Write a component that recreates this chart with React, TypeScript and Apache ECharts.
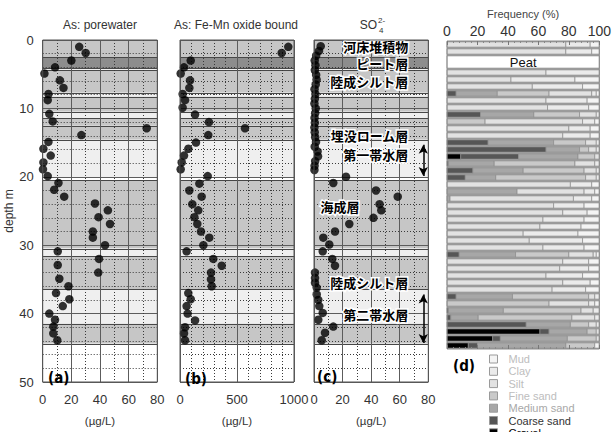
import React, { useEffect, useRef } from "react";
import * as echarts from "echarts";

const FONT = "'Liberation Sans', Arial, sans-serif";
const JP = "'Noto Sans CJK JP', sans-serif";
const BOLD_NARROW = "'DejaVu Sans Condensed', 'Liberation Sans Narrow', 'DejaVu Sans', sans-serif";

// ---- tick labels ----
const depthTicks = [0, 10, 20, 30, 40, 50];
const concTicks = [0, 20, 40, 60, 80];
const feMnTicks = [0, 500, 1000];
const freqTicks = [0, 20, 40, 60, 80, 100];

// ---- (a) As: porewater (µg/L) ----
const porewaterDepth = [1.0, 1.9, 3.0, 4.0, 4.9, 5.9, 7.0, 7.9, 8.8, 10.8, 11.9, 12.9, 13.9, 14.9, 15.9, 16.9, 17.9, 18.9, 19.9, 20.9, 21.9, 22.9, 23.9, 24.9, 25.9, 26.9, 28.0, 28.9, 30.0, 30.9, 32.0, 32.9, 34.0, 34.9, 36.0, 37.0, 37.9, 38.9, 40.0, 40.9, 41.9, 42.9, 43.9];
const porewaterAs = [25.5, 30, 20, 8.6, 1.2, 12, 14.5, 4, 3.5, 4.6, 7, 72.6, 27, 4, 0.5, 5.6, 0.5, 0.2, 3.5, 11, 8, 15, 36.5, 45.5, 39, 47, 35, 35, 43.5, 10.5, 39.3, 10.5, 38.8, 11.6, 18, 9.3, 18.6, 14, 4.6, 8.6, 7.4, 7.4, 10.2];

// ---- (b) As: Fe-Mn oxide bound (µg/L) ----
const feMnDepth = [1.0, 1.9, 3.0, 4.0, 4.9, 5.9, 7.0, 7.9, 8.8, 9.9, 10.9, 12.0, 12.9, 13.9, 15.0, 15.9, 16.9, 17.9, 18.9, 19.9, 21.0, 22.0, 22.9, 24.0, 24.9, 25.9, 26.9, 28.0, 28.9, 30.0, 30.9, 32.0, 33.0, 34.0, 35.0, 36.0, 37.0, 37.9, 38.9, 40.0, 41.0, 42.0, 42.9, 43.9];
const feMnAs = [950, 892, 94, 35, 6, 88, 82, 23, 44, 23, 132, 254, 570, 248, 140, 73, 35, 15, 6, 243, 170, 82, 190, 108, 160, 126, 152, 184, 257, 205, 58, 292, 366, 272, 272, 278, 73, 94, 58, 67, 132, 44, 35, 44];

// ---- (c) SO4 2- (µg/L) ----
const so4Depth = [0.9, 1.6, 2.3, 3.0, 3.7, 4.4, 5.1, 5.8, 6.5, 7.2, 7.9, 8.6, 9.3, 10.0, 10.7, 11.4, 12.1, 12.8, 13.5, 14.2, 14.9, 15.6, 16.3, 17.0, 17.7, 18.4, 19.0, 20.0, 20.9, 22.0, 22.9, 24.0, 24.9, 26.0, 26.9, 28.0, 28.9, 29.9, 30.9, 32.0, 33.0, 34.0, 34.8, 35.5, 36.2, 37.2, 38.0, 38.9, 39.9, 40.9, 41.9, 42.8, 43.9];
const so4Conc = [4.7, 3.5, 1.5, 0.5, 1.0, 0.6, 1.5, 1.8, 1.2, 0.4, 1.0, 0.6, 0.3, 1.2, 0.8, 0.4, 0.6, 0.3, 0.5, 0.8, 1.4, 0.5, 2.5, 2.8, 0.8, 0.4, 0.3, 22.4, 13.5, 43.4, 58.6, 45.9, 47.1, 41.6, 24.7, 14.7, 6.5, 10.7, 6.1, 12.8, 14.7, 0.7, 0.7, 0.7, 1.9, 1.9, 3.0, 3.7, 6.1, 3.0, 13.5, 7.7, 5.4];

// ---- stratigraphic bands (depth m) ----
const layerTop = [0, 2.5, 4.1, 4.4, 7.7, 8.3, 10.5, 11.4, 12.5, 14.6, 20.1, 20.5, 30.5, 31.6, 36.4, 41.5, 44.4];
const layerBottom = [2.5, 4.1, 4.4, 7.7, 8.3, 10.5, 11.4, 12.5, 14.6, 20.1, 20.5, 30.5, 31.6, 36.4, 41.5, 44.4, 50];
const layerShade = [1, 2, 0, 1, 0, 1, 0, 1, 1, 0, 3, 1, 0, 1, 0, 1, 3]; // 0 light,1 medium,2 dark,3 white

const layerNames = ["河床堆積物", "ピート層", "陸成シルト層", "埋没ローム層", "第一帯水層", "海成層", "陸成シルト層", "第二帯水層"];
const layerNameDepths = [1.0, 3.4, 6.1, 14.0, 16.8, 24.3, 35.4, 40.1];
const aquiferTop = [14.8, 36.7];
const aquiferBottom = [20.4, 44.8];

// ---- (d) grain size frequency (%) per row ----
const rowTop = [0, 1, 4, 5, 6, 7, 8, 9, 10, 11, 12, 13, 14, 15, 16, 17, 18, 19, 20, 21, 22, 23, 24, 25, 26, 27, 28, 29, 30, 31, 32, 33, 34, 35, 36, 37, 38, 39, 40, 41, 42, 43];
const peatTop = 2;
const peatBottom = 4;
const gravel = [0, 0, 0, 0, 0, 0, 0, 0, 0, 0, 0, 0, 0, 0, 9, 0, 0, 0, 0, 0, 0, 0, 0, 0, 0, 0, 0, 0, 0, 0, 0, 0, 0, 0, 0, 0, 0, 0, 0, 61, 30, 14];
const coarseSand = [0, 0, 0, 0, 0, 6, 0, 0, 22, 0, 0, 0, 27, 65, 38, 1, 17, 12, 0, 0, 0, 0, 0, 0, 0, 0, 0, 0, 8, 0, 0, 0, 0, 0, 6, 0, 1, 2.5, 52, 6, 5, 6];
const mediumSand = [0, 0, 0, 0, 0, 27, 0, 0, 35, 0, 0, 0, 43, 22, 39, 30, 33, 20, 0, 46, 2, 0, 0, 0, 0, 0, 0, 0, 37, 0, 0, 0, 0, 0, 37, 0, 36, 18, 29, 25, 44, 58];
const fineSand = [0, 0, 0, 0, 0, 34, 0, 0, 30, 25, 0, 0, 21, 6, 11, 53, 40, 59, 0, 0, 0, 0, 0, 0, 0, 0, 0, 0, 35, 0, 0, 0, 0, 0, 50, 67, 51, 61.5, 12, 6, 19, 19];
const silt = [78, 78, 65, 42, 56, 28, 65, 66, 11, 64, 80, 76, 7, 5, 3, 13, 8, 7, 81, 44, 81, 70, 76, 63, 61, 50, 54, 63, 16, 76, 74, 65, 76, 69, 4, 26, 8, 15, 5, 2, 2, 0];
const clay = [16, 17, 35, 42, 33, 3, 27, 27, 2, 8, 14, 18, 2, 2, 0, 3, 2, 2, 14, 7, 12, 20, 16, 27, 27, 36, 35, 27, 2, 17, 19, 24, 18, 22, 3, 4, 4, 3, 2, 0, 0, 0];
const mud = [6, 5, 0, 16, 11, 2, 8, 7, 0, 3, 6, 6, 0, 0, 0, 0, 0, 0, 5, 3, 5, 10, 8, 10, 12, 14, 11, 10, 2, 7, 7, 11, 6, 9, 0, 3, 0, 0, 0, 0, 0, 3];

const components = [
  { name: "Gravel", values: gravel, color: "#000000", text: "#000000" },
  { name: "Coarse sand", values: coarseSand, color: "#565656", text: "#333333" },
  { name: "Medium sand", values: mediumSand, color: "#a7a7a7", text: "#a8a8a8" },
  { name: "Fine sand", values: fineSand, color: "#c9c9c9", text: "#bdbdbd" },
  { name: "Silt", values: silt, color: "#e2e2e2", text: "#bdbdbd" },
  { name: "Clay", values: clay, color: "#ebebeb", text: "#bdbdbd" },
  { name: "Mud", values: mud, color: "#f4f4f4", text: "#bdbdbd" },
];
const legendOrder = ["Mud", "Clay", "Silt", "Fine sand", "Medium sand", "Coarse sand", "Gravel"];

const SHADES = ["#efefef", "#c6c6c6", "#8d8d8d", "#ffffff"];

const zip = (x: number[], y: number[]) => x.map((v, i) => [v, y[i]]);

function buildOption(): any {
  const grids: any[] = [
    { left: 42.7, top: 40, width: 114.6, height: 347.5 },
    { left: 180, top: 40, width: 114, height: 347.5 },
    { left: 314, top: 40, width: 114.3, height: 347.5 },
  ].map((g) => ({ ...g, show: true, z: 10, borderColor: "#555", borderWidth: 1, backgroundColor: "transparent" }));
  grids.push({ left: 447, top: 41, width: 155, height: 308, show: true, z: 10, borderColor: "#8a8a8a", borderWidth: 1, backgroundColor: "transparent" });

  const depthAxis = (gridIndex: number, showLabel: boolean) => ({
    type: "value",
    gridIndex,
    inverse: true,
    min: depthTicks[0],
    max: depthTicks[depthTicks.length - 1],
    interval: depthTicks[1] - depthTicks[0],
    z: 3,
    axisLine: { show: false },
    axisTick: { show: false },
    axisLabel: { show: showLabel, fontSize: 13, color: "#333", margin: 9, fontFamily: FONT },
    splitLine: { show: true, lineStyle: { color: "#5c5c5c", width: 1 } },
    minorTick: { show: false, splitNumber: 5 },
    minorSplitLine: { show: true, lineStyle: { color: "#3a3a3a", width: 1, type: [1, 2] } },
    ...(showLabel
      ? { name: "depth m", nameLocation: "middle", nameGap: 27, nameRotate: 90, nameTextStyle: { fontSize: 12, color: "#333", fontFamily: FONT } }
      : {}),
  });

  const concAxis = (gridIndex: number, ticks: number[], minor: number) => ({
    type: "value",
    gridIndex,
    min: ticks[0],
    max: ticks[ticks.length - 1],
    interval: ticks[1] - ticks[0],
    z: 3,
    axisLine: { show: false },
    axisTick: { show: false },
    axisLabel: { fontSize: 13, color: "#333", margin: 11, fontFamily: FONT, formatter: (v: number) => String(v) },
    splitLine: { show: true, lineStyle: { color: "#5c5c5c", width: 1 } },
    minorTick: { show: false, splitNumber: minor },
    minorSplitLine: { show: true, lineStyle: { color: "#3a3a3a", width: 1, type: [1, 2] } },
    name: "(µg/L)",
    nameLocation: "middle",
    nameGap: 33,
    nameTextStyle: { fontSize: 11.5, color: "#333", fontFamily: FONT },
  });

  const bandRender = (params: any, api: any) => {
    const cs = params.coordSys;
    const y0 = api.coord([0, api.value(0)])[1];
    const y1 = api.coord([0, api.value(1)])[1];
    const children: any[] = [
      { type: "rect", shape: { x: cs.x, y: y0, width: cs.width, height: y1 - y0 }, style: { fill: SHADES[api.value(2)] } },
    ];
    if (api.value(0) > 0) {
      const yl = Math.round(y0) + 0.5;
      children.push({ type: "line", shape: { x1: cs.x, y1: yl, x2: cs.x + cs.width, y2: yl }, style: { stroke: "#474747", lineWidth: 1 } });
    }
    return { type: "group", children };
  };

  const bandData = layerTop.map((t, i) => [t, layerBottom[i], layerShade[i]]);
  const bandSeries = [0, 1, 2].map((g) => ({
    type: "custom",
    name: "bands" + g,
    xAxisIndex: g,
    yAxisIndex: g,
    z: 1,
    silent: true,
    encode: { y: [0, 1], x: 2 },
    data: bandData,
    renderItem: bandRender,
  }));

  const scatterBase = { type: "scatter", symbol: "circle", symbolSize: 8.5, itemStyle: { color: "#000" }, z: 5, silent: true };

  // backdrop of the grain size panel (gaps between rows)
  const backdropSeries = {
    type: "custom",
    name: "backdrop",
    xAxisIndex: 3,
    yAxisIndex: 3,
    z: 1,
    silent: true,
    encode: { y: 0, x: 1 },
    data: [[0, 0]],
    renderItem: (params: any) => {
      const cs = params.coordSys;
      return { type: "rect", shape: { x: cs.x, y: cs.y, width: cs.width, height: cs.height }, style: { fill: "#a4a4a4" } };
    },
  };

  // grain size stacked rows
  const compSeries = components.map((c, k) => ({
    type: "custom",
    name: c.name,
    xAxisIndex: 3,
    yAxisIndex: 3,
    z: 2,
    silent: true,
    itemStyle: { color: c.color },
    encode: { y: [0, 1], x: [2, 3] },
    data: rowTop
      .map((t, r) => {
        let start = 0;
        for (let j = 0; j < k; j++) start += components[j].values[r];
        return [t, t + 1, start, start + c.values[r]];
      })
      .filter((d) => d[3] > d[2]),
    renderItem: (params: any, api: any) => {
      const p0 = api.coord([api.value(2), api.value(0)]);
      const p1 = api.coord([api.value(3), api.value(1)]);
      return {
        type: "rect",
        shape: { x: p0[0], y: p0[1] + 0.9, width: p1[0] - p0[0], height: p1[1] - p0[1] - 1.8 },
        style: { fill: c.color, stroke: "#8e8e8e", lineWidth: 0.7 },
      };
    },
  }));

  const peatSeries = {
    type: "custom",
    name: "Peat",
    xAxisIndex: 3,
    yAxisIndex: 3,
    z: 2,
    silent: true,
    encode: { y: [0, 1], x: [2, 3] },
    data: [[peatTop, peatBottom, 0, 100]],
    renderItem: (params: any, api: any) => {
      const p0 = api.coord([api.value(2), api.value(0)]);
      const p1 = api.coord([api.value(3), api.value(1)]);
      return {
        type: "group",
        children: [
          { type: "rect", shape: { x: p0[0], y: p0[1] + 0.9, width: p1[0] - p0[0], height: p1[1] - p0[1] - 1.8 }, style: { fill: "#ffffff", stroke: "#8e8e8e", lineWidth: 0.7 } },
          { type: "text", x: (p0[0] + p1[0]) / 2, y: (p0[1] + p1[1]) / 2, style: { text: "Peat", fill: "#111", fontSize: 13, fontFamily: FONT, align: "center", verticalAlign: "middle" } },
        ],
      };
    },
  };

  const labelSeries = {
    type: "custom",
    name: "layers",
    xAxisIndex: 2,
    yAxisIndex: 2,
    z: 7,
    silent: true,
    encode: { y: 0, x: 1 },
    data: layerNameDepths.map((d, i) => [d, i]),
    renderItem: (params: any, api: any) => {
      const name = layerNames[api.value(1)];
      const leftAligned = name === "海成層";
      const p = api.coord([leftAligned ? 4.5 : 66, api.value(0)]);
      return {
        type: "text",
        x: p[0],
        y: p[1],
        style: {
          text: name,
          fontSize: 13,
          fontWeight: "bold",
          fontFamily: JP,
          align: leftAligned ? "left" : "right",
          verticalAlign: "middle",
          lineHeight: 13,
          fill: "#000",
          stroke: "#fff",
          lineWidth: 3,
          strokeFirst: true,
        },
      };
    },
  };

  const titleStyle = { fill: "#333", fontSize: 12, fontFamily: FONT, align: "center", verticalAlign: "middle" };
  const panelStyle = { fill: "#000", fontSize: 15, fontWeight: "bold", fontFamily: BOLD_NARROW, align: "left", verticalAlign: "middle" };

  return {
    animation: false,
    backgroundColor: "#ffffff",
    grid: grids,
    xAxis: [
      concAxis(0, concTicks, 2),
      concAxis(1, feMnTicks, 5),
      concAxis(2, concTicks, 2),
      {
        type: "value",
        gridIndex: 3,
        position: "top",
        min: freqTicks[0],
        max: freqTicks[freqTicks.length - 1],
        interval: freqTicks[1] - freqTicks[0],
        z: 11,
        axisLine: { show: false },
        axisTick: { show: true, inside: true, length: 4, lineStyle: { color: "#777" } },
        minorTick: { show: true, splitNumber: 5, length: 2, lineStyle: { color: "#888" } },
        axisLabel: { fontSize: 14, color: "#333", margin: 3, fontFamily: FONT },
        splitLine: { show: false },
        name: "Frequency (%)",
        nameLocation: "middle",
        nameGap: 22,
        nameTextStyle: { fontSize: 11, color: "#444", fontFamily: FONT },
      },
      {
        type: "value",
        gridIndex: 3,
        position: "bottom",
        min: freqTicks[0],
        max: freqTicks[freqTicks.length - 1],
        interval: freqTicks[1] - freqTicks[0],
        z: 11,
        axisLine: { show: false },
        axisTick: { show: true, inside: true, length: 4, lineStyle: { color: "#777" } },
        minorTick: { show: true, splitNumber: 5, length: 2, lineStyle: { color: "#888" } },
        axisLabel: { show: false },
        splitLine: { show: false },
      },
    ],
    yAxis: [
      depthAxis(0, true),
      depthAxis(1, false),
      depthAxis(2, false),
      { type: "value", gridIndex: 3, inverse: true, min: 0, max: 44, show: false, splitLine: { show: false } },
    ],
    legend: {
      data: legendOrder.map((n) => {
        const c = components.find((x) => x.name === n)!;
        return { name: n, textStyle: { color: c.text } };
      }),
      orient: "vertical",
      left: 489,
      top: 353,
      height: 200,
      padding: 0,
      icon: "rect",
      itemWidth: 8,
      itemHeight: 8,
      itemGap: 0.3,
      selectedMode: false,
      itemStyle: { borderColor: "#9a9a9a", borderWidth: 1 },
      textStyle: { fontSize: 11, fontFamily: FONT, lineHeight: 12, padding: [0, 0, 0, 6] },
    },
    graphic: [
      { type: "text", z: 20, x: 100, y: 25, style: { ...titleStyle, text: "As: porewater" } },
      { type: "text", z: 20, x: 236, y: 25, style: { ...titleStyle, text: "As: Fe-Mn oxide bound" } },
      { type: "text", z: 20, x: 377, y: 25, style: { ...titleStyle, align: "right", text: "SO" } },
      { type: "text", z: 20, x: 378, y: 20, style: { ...titleStyle, align: "left", fontSize: 8, text: "2-" } },
      { type: "text", z: 20, x: 379, y: 30, style: { ...titleStyle, align: "left", fontSize: 8, text: "4" } },
      { type: "text", z: 20, x: 48, y: 378, style: { ...panelStyle, text: "(a)" } },
      { type: "text", z: 20, x: 185, y: 379, style: { ...panelStyle, text: "(b)" } },
      { type: "text", z: 20, x: 317, y: 377, style: { ...panelStyle, text: "(c)" } },
      { type: "text", z: 20, x: 453, y: 366, style: { ...panelStyle, text: "(d)" } },
    ],
    series: [
      ...bandSeries,
      { ...scatterBase, name: "As: porewater", xAxisIndex: 0, yAxisIndex: 0, data: zip(porewaterAs, porewaterDepth) },
      { ...scatterBase, name: "As: Fe-Mn oxide bound", xAxisIndex: 1, yAxisIndex: 1, data: zip(feMnAs, feMnDepth) },
      {
        ...scatterBase,
        name: "SO4",
        xAxisIndex: 2,
        yAxisIndex: 2,
        data: zip(so4Conc, so4Depth),
        markLine: {
          silent: true,
          symbol: ["arrow", "arrow"],
          symbolSize: [7, 9],
          label: { show: false },
          lineStyle: { color: "#000", width: 1.5, type: "solid" },
          data: aquiferTop.map((t, i) => [{ coord: [76.5, t + 0.5] }, { coord: [76.5, aquiferBottom[i] - 0.5] }]),
        },
      },
      labelSeries,
      backdropSeries,
      ...compSeries,
      peatSeries,
    ],
  };
}

export default function App() {
  const ref = useRef<HTMLDivElement>(null);
  useEffect(() => {
    const el = ref.current;
    if (!el) return;
    const chart = echarts.init(el, undefined, { renderer: "svg" });
    chart.setOption(buildOption());
    return () => chart.dispose();
  }, []);
  return <div ref={ref} style={{ position: "fixed", left: 0, top: 0, width: 614, height: 432 }} />;
}
